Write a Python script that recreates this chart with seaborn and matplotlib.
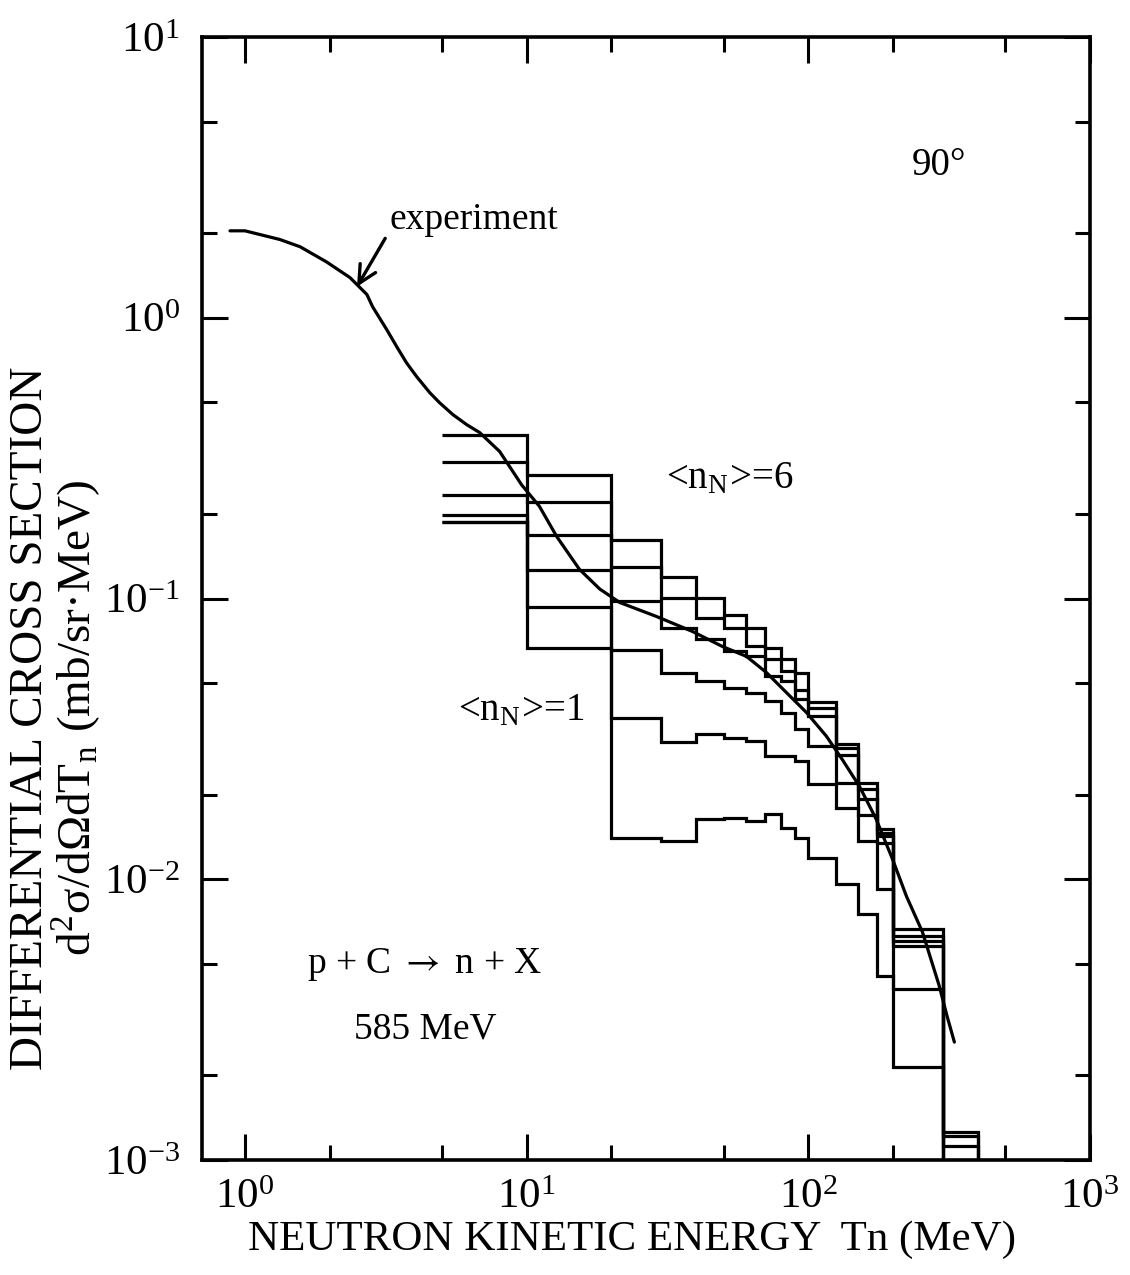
import numpy as np
import matplotlib
matplotlib.use("Agg")
import matplotlib.pyplot as plt
import seaborn as sns
from matplotlib.ticker import LogLocator, NullFormatter, FuncFormatter

exp_T = [0.885, 1.0, 1.33, 1.57, 1.95, 2.36, 2.71, 2.84, 3.19, 3.46, 3.75, 4.07, 4.53,
         4.91, 5.47, 6.13, 6.81, 8.02, 9.60, 11.1, 12.8, 15.4, 18.2, 21.4, 28.9, 38.8,
         49.5, 60.3, 71.0, 83.5, 98.4, 116, 132, 152, 174, 199, 223, 254, 291, 311, 330]
exp_xs = [2.04, 2.04, 1.90, 1.79, 1.58, 1.39, 1.21, 1.094, 0.906, 0.788, 0.690, 0.617, 0.541,
          0.498, 0.452, 0.416, 0.390, 0.334, 0.254, 0.213, 0.166, 0.127, 0.108, 0.0968, 0.0863, 0.0763,
          0.0675, 0.0622, 0.0545, 0.0463, 0.0393, 0.0323, 0.0267, 0.0214, 0.0164, 0.0118, 0.0087,
          0.0065, 0.0042, 0.00325, 0.00263]

# calculated histograms, bin edges in MeV (zero above 400 MeV)
bin_edges = [5, 10, 20, 30, 40, 50, 60, 70, 80, 90, 100, 125, 150, 175, 200, 300, 400, 1000]
hist_1 = [0.381, 0.276, 0.162, 0.1195, 0.1006, 0.0877, 0.0787, 0.0668, 0.0607, 0.0541, 0.0428, 0.0302, 0.0221, 0.01506, 0.00664, 0.001255, 0]
hist_2 = [0.306, 0.221, 0.130, 0.1006, 0.0854, 0.0787, 0.0676, 0.0607, 0.0551, 0.0474, 0.0408, 0.0294, 0.0209, 0.01466, 0.00628, 0.00122, 0]
hist_3 = [0.233, 0.169, 0.0976, 0.0787, 0.0715, 0.0649, 0.0623, 0.0529, 0.0508, 0.0437, 0.0381, 0.0278, 0.0193, 0.01426, 0.00603, 0.001124, 0]
hist_4 = [0.198, 0.126, 0.0658, 0.0544, 0.0508, 0.0481, 0.0462, 0.0431, 0.0392, 0.0342, 0.0298, 0.0221, 0.0170, 0.01351, 0.00579, 0, 0]
hist_5 = [0.188, 0.0934, 0.0376, 0.0307, 0.0328, 0.0319, 0.0311, 0.0275, 0.0275, 0.0264, 0.0218, 0.0180, 0.0137, 0.00921, 0.00406, 0, 0]
hist_6 = [0.188, 0.0668, 0.01407, 0.01369, 0.01635, 0.01658, 0.01612, 0.01703, 0.01528, 0.01407, 0.01195, 0.0096, 0.0075, 0.00453, 0.00214, 0, 0]
histos = [hist_1, hist_2, hist_3, hist_4, hist_5, hist_6]

sns.set_theme(style="ticks")
plt.rcParams['font.family'] = ['Liberation Serif', 'DejaVu Serif']
plt.rcParams['mathtext.fontset'] = 'stix'
for k in ['text.color', 'axes.labelcolor', 'xtick.color', 'ytick.color',
          'xtick.labelcolor', 'ytick.labelcolor', 'axes.edgecolor']:
    plt.rcParams[k] = 'black'

fig = plt.figure(figsize=(11.3, 12.75), dpi=100)
ax = fig.add_axes([202/1130, 1 - 1160/1275, 888/1130, 1123/1275])
ax.set_xscale('log')
ax.set_yscale('log')

for h in histos:
    ax.stairs(h, bin_edges, baseline=None, color='black', lw=2.3)

sns.lineplot(x=exp_T, y=exp_xs, ax=ax, color='black', lw=2.3, estimator=None, sort=False)

ax.set_xlim(0.704, 1000)
ax.set_ylim(1e-3, 10)

fmt = FuncFormatter(lambda v, p: r"$\mathregular{10^{%d}}$" % round(np.log10(v)))
for axis in (ax.xaxis, ax.yaxis):
    axis.set_major_locator(LogLocator(base=10, numticks=10))
    axis.set_minor_locator(LogLocator(base=10, subs=(2.0, 5.0), numticks=10))
    axis.set_minor_formatter(NullFormatter())
    axis.set_major_formatter(fmt)

ax.tick_params(which='both', direction='in', top=True, right=True, width=2.2, color='black')
ax.tick_params(which='major', length=19, labelsize=31)
ax.tick_params(axis='x', which='major', pad=13)
ax.tick_params(axis='y', which='major', pad=16)
ax.tick_params(which='minor', length=11)
for sp in ax.spines.values():
    sp.set_linewidth(2.6)

ax.set_xlabel("NEUTRON KINETIC ENERGY  Tn (MeV)", fontsize=31)
ax.xaxis.set_label_coords(0.484, -0.054)
fig.text(0.050, 0.437,
         "DIFFERENTIAL CROSS SECTION\n"
         r"d$^{\mathregular{2}}$σ/dΩdT$_{\mathregular{n}}$ (mb/sr·MeV)",
         rotation=90, ha='center', va='center', multialignment='center',
         fontsize=34, linespacing=0.95)

ax.text(291, 3.5, "90°", fontsize=28, ha='center', va='center')
ax.annotate("experiment", xy=(2.50, 1.29), xytext=(3.27, 2.23), fontsize=27,
            ha='left', va='center',
            arrowprops=dict(arrowstyle='->', lw=2.4, color='black', shrinkA=2, shrinkB=0,
                            relpos=(0.0, 0.2), mutation_scale=32))
ax.text(52.5, 0.265, r"<n$_{\mathregular{N}}$>=6", fontsize=28, ha='center', va='center')
ax.text(9.6, 0.0396, r"<n$_{\mathregular{N}}$>=1", fontsize=28, ha='center', va='center')
ax.text(4.35, 0.00499, r"p + C $\rightarrow$ n + X", fontsize=27, ha='center', va='center')
ax.text(4.35, 0.00292, "585 MeV", fontsize=27, ha='center', va='center')

fig.savefig("out.png", dpi=100)
